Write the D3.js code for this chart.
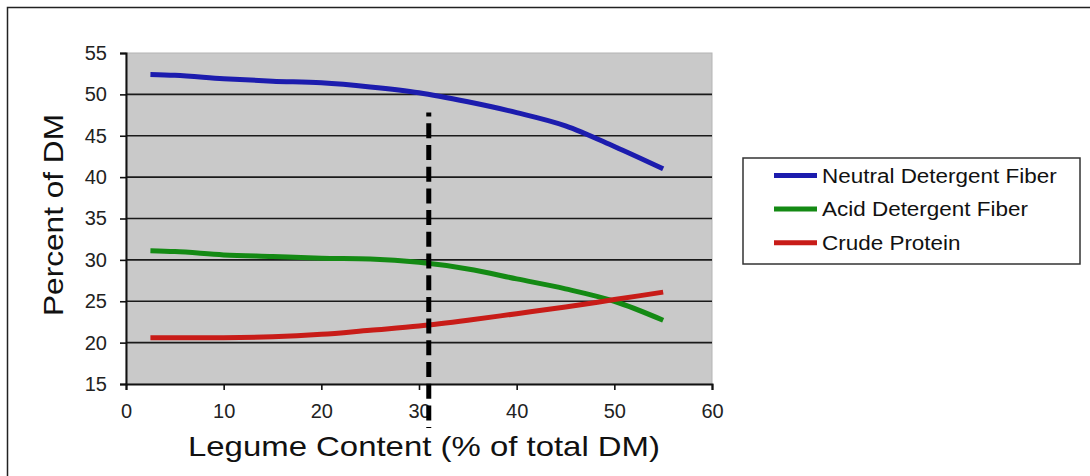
<!DOCTYPE html>
<html><head><meta charset="utf-8">
<script src="https://cdn.jsdelivr.net/npm/d3@7"></script>
<style>body{margin:0;background:#fff;}svg{display:block;font-family:"Liberation Sans",Arial,sans-serif;}</style>
</head><body><svg id="c" width="1090" height="476"></svg>
<script>
const legume = [2.5, 5, 10, 15, 20, 25, 30, 35, 40, 45, 50, 55];
const ndf = [52.4, 52.3, 51.9, 51.6, 51.4, 50.9, 50.2, 49.1, 47.8, 46.2, 43.7, 41.0];
const adf = [31.1, 31.0, 30.6, 30.4, 30.2, 30.1, 29.7, 28.9, 27.7, 26.5, 25.0, 22.7];
const cp  = [20.6, 20.6, 20.6, 20.7, 21.0, 21.5, 22.0, 22.7, 23.5, 24.3, 25.2, 26.1];
const seriesNames = ["Neutral Detergent Fiber", "Acid Detergent Fiber", "Crude Protein"];
const seriesColors = ["#1c1cae", "#148a14", "#c81c18"];
const xTicks = [0, 10, 20, 30, 40, 50, 60];
const yTicks = [15, 20, 25, 30, 35, 40, 45, 50, 55];
const markerX = 31;
const markerTop = 47.8;

const svg = d3.select("#c");
const L = 126, R = 712, T = 53, B = 384;
const x = d3.scaleLinear().domain([0, 60]).range([L, R]);
const y = d3.scaleLinear().domain([15, 55]).range([B, T]);

// outer frame
svg.append("path").attr("d", "M7.5,480 V7.5 H1095").attr("fill", "none").attr("stroke", "#222").attr("stroke-width", 1.5);

// plot bg
svg.append("rect").attr("x", L).attr("y", T).attr("width", R - L).attr("height", B - T)
  .attr("fill", "#c9c9c9").attr("stroke", "#b4b4b4").attr("stroke-width", 1);

// gridlines
svg.append("g").selectAll("line").data(yTicks.filter(d => d > 15 && d < 55)).join("line")
  .attr("x1", L).attr("x2", R).attr("y1", d => y(d)).attr("y2", d => y(d))
  .attr("stroke", "#1a1a1a").attr("stroke-width", 1.6);

// axes
const yAxis = svg.append("g").attr("transform", `translate(${L},0)`)
  .call(d3.axisLeft(y).tickValues(yTicks).tickSize(6).tickPadding(13));
const xAxis = svg.append("g").attr("transform", `translate(0,${B})`)
  .call(d3.axisBottom(x).tickValues(xTicks).tickSize(6).tickPadding(14));
[yAxis, xAxis].forEach(a => {
  a.select(".domain").attr("stroke", "#111").attr("stroke-width", 2);
  a.selectAll(".tick line").attr("stroke", "#111").attr("stroke-width", 1.6);
  a.selectAll("text").attr("font-size", 20).attr("fill", "#222").attr("font-family", "Liberation Sans, Arial, sans-serif");
});

// lines
const all = [ndf, adf, cp];
const line = d3.line().x((d, i) => x(legume[i])).y(d => y(d)).curve(d3.curveMonotoneX);
all.forEach((s, k) => {
  svg.append("path").datum(s).attr("d", line).attr("fill", "none")
    .attr("stroke", seriesColors[k]).attr("stroke-width", 5).attr("stroke-linecap", "butt");
});

// dashed marker
svg.append("line").attr("x1", x(markerX)).attr("x2", x(markerX))
  .attr("y1", y(markerTop)).attr("y2", 428)
  .attr("stroke", "#000").attr("stroke-width", 5)
  .attr("stroke-dasharray", "15,6.7").attr("stroke-dashoffset", 11);

// axis titles
svg.append("text").attr("transform", `translate(63,215) rotate(-90)`)
  .attr("text-anchor", "middle").attr("font-size", 28).attr("fill", "#111")
  .attr("textLength", 202).attr("lengthAdjust", "spacingAndGlyphs").text("Percent of DM");
svg.append("text").attr("x", 424).attr("y", 456).attr("text-anchor", "middle")
  .attr("font-size", 28).attr("fill", "#111")
  .attr("textLength", 472).attr("lengthAdjust", "spacingAndGlyphs").text("Legume Content (% of total DM)");

// legend
const lg = svg.append("g");
lg.append("rect").attr("x", 743).attr("y", 158).attr("width", 337).attr("height", 106)
  .attr("fill", "#fff").attr("stroke", "#333").attr("stroke-width", 1.5);
seriesNames.forEach((n, i) => {
  const yy = 175.5 + i * 33.6;
  lg.append("line").attr("x1", 774).attr("x2", 817).attr("y1", yy).attr("y2", yy)
    .attr("stroke", seriesColors[i]).attr("stroke-width", 5);
  lg.append("text").attr("transform", `translate(822,${yy + 7}) scale(1.07,1)`)
    .attr("font-size", 21).attr("fill", "#111").text(n);
});
</script></body></html>
